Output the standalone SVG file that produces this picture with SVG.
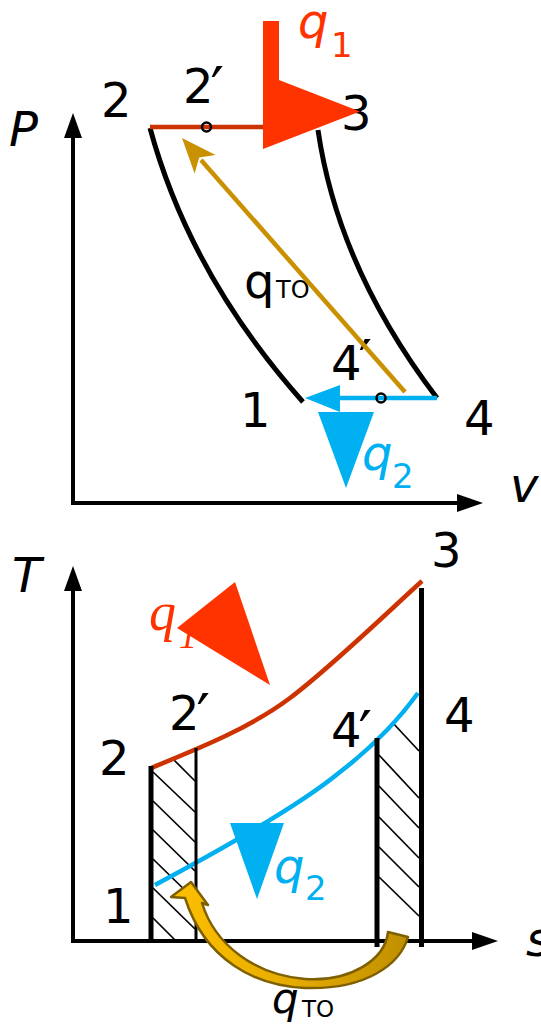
<svg xmlns="http://www.w3.org/2000/svg" width="541" height="1025" viewBox="0 0 541 1025">
<defs>
<style>
.lbl{font-family:"DejaVu Sans","Liberation Sans",sans-serif;font-size:48px;fill:#000}
.it{font-style:italic}
.pr{font-size:60px}
.red{fill:#FF3300}
.blue{fill:#00B0F0}
.axis{stroke:#000;stroke-width:4;fill:none}
.adb{stroke:#000;stroke-width:5;fill:none}
.thick{stroke:#000;stroke-width:5;fill:none}
.thin{stroke:#000;stroke-width:3;fill:none}
.hatch{stroke:#000;stroke-width:1.7;fill:none}
.isobar{stroke:#CC3300;stroke-width:4.5;fill:none}
.cold{stroke:#00B0F0;stroke-width:4.5;fill:none}
.regen{stroke:#C99000;stroke-width:4.5;fill:none}
.pt{stroke:#000;stroke-width:2.5;fill:none}
</style>
<linearGradient id="goldGrad" x1="170" y1="0" x2="410" y2="0" gradientUnits="userSpaceOnUse">
<stop offset="0" stop-color="#FFC000"/>
<stop offset="0.45" stop-color="#E8AE00"/>
<stop offset="1" stop-color="#BF8F00"/>
</linearGradient>
</defs>
<rect width="541" height="1025" fill="#fff"/>

<!-- P-v diagram -->
<g id="pv-axes">
<polyline class="axis" points="73,135 73,503 460,503"/>
<polygon points="73,113 64,138 82,138" fill="#000"/>
<polygon points="483,503 457,494 457,512" fill="#000"/>
<text class="lbl it" x="9" y="146">P</text>
<text class="lbl it" x="510" y="502">v</text>
</g>

<g id="pv-labels">
<text id="pv-2" class="lbl" x="101" y="117">2</text>
<text id="pv-2p" class="lbl" x="183" y="103">2<tspan class="pr" dx="-3" dy="7">′</tspan></text>
<text id="pv-3" class="lbl" x="341" y="130">3</text>
<text id="pv-4p" class="lbl" x="331" y="380">4<tspan class="pr" dx="-3" dy="3">′</tspan></text>
<text id="pv-1" class="lbl" x="240" y="427">1</text>
<text id="pv-4" class="lbl" x="464" y="435">4</text>
<text id="pv-qto" class="lbl"><tspan x="244" y="298">q</tspan><tspan x="276" y="298" font-size="24">TO</tspan></text>
</g>

<g id="pv-connectors">
<path class="adb" d="M150,128 Q190,275 303,402"/>
<path class="adb" d="M318,130 Q338,268 437,398"/>
<line class="isobar" x1="150" y1="127" x2="266" y2="127"/>
<line class="cold" x1="437" y1="398" x2="338" y2="398"/>
<polygon class="blue" points="305,398 340,385 340,412"/>
<line class="regen" x1="405" y1="392" x2="201" y2="160"/>
<polygon points="182,138 215.6,155.1 199.2,157.6 194.6,173.5" fill="#C99000"/>
<circle class="pt" cx="206.5" cy="127" r="4.5"/>
<circle class="pt" cx="381" cy="398" r="4.5"/>
</g>

<g id="pv-q1">
<path class="red" d="M263,21 H279 V80 L360,111.5 L263,149 Z"/>
<text class="lbl red"><tspan class="it" x="298" y="38">q</tspan><tspan x="331" y="57" font-size="34">1</tspan></text>
</g>

<g id="pv-q2">
<polygon class="blue" points="318,412 374,412 346,488"/>
<text class="lbl blue"><tspan class="it" x="362" y="470">q</tspan><tspan x="392" y="488" font-size="34">2</tspan></text>
</g>

<!-- T-s diagram -->
<g id="ts-axes">
<polyline class="axis" points="73,589 73,941 475,941"/>
<polygon points="73,566 64,591 82,591" fill="#000"/>
<polygon points="498,941 472,932 472,950" fill="#000"/>
<text class="lbl it" x="12" y="592">T</text>
<text class="lbl it" x="526" y="956">s</text>
</g>

<g id="ts-labels">
<text id="ts-3" class="lbl" x="431" y="567">3</text>
<text id="ts-2p" class="lbl" x="169" y="730">2<tspan class="pr" dx="-3" dy="7">′</tspan></text>
<text id="ts-4" class="lbl" x="444" y="732">4</text>
<text id="ts-4p" class="lbl" x="331" y="747">4<tspan class="pr" dx="-3" dy="7">′</tspan></text>
<text id="ts-2" class="lbl" x="99" y="775">2</text>
<text id="ts-1" class="lbl" x="103" y="923">1</text>
<text id="ts-qto" class="lbl"><tspan class="it" x="272" y="1013" font-size="42">q</tspan><tspan x="302" y="1017" font-size="23">TO</tspan></text>
</g>

<g id="ts-q1">
<text fill="#FF3300" font-family="'Liberation Serif',serif" font-style="italic"><tspan x="149" y="630" font-size="54">q</tspan><tspan x="179" y="648" font-size="36">1</tspan></text>
<polygon class="red" points="235,582 177,628 270,685"/>
</g>

<g id="ts-hatch">
<line class="hatch" x1="173" y1="759" x2="195" y2="781"/>
<line class="hatch" x1="153" y1="772" x2="195" y2="812"/>
<line class="hatch" x1="153" y1="801" x2="195" y2="842"/>
<line class="hatch" x1="153" y1="830" x2="195" y2="871"/>
<line class="hatch" x1="153" y1="859" x2="195" y2="900"/>
<line class="hatch" x1="153" y1="888" x2="195" y2="929"/>
<line class="hatch" x1="153" y1="918" x2="176" y2="941"/>
<line class="hatch" x1="392" y1="722" x2="419" y2="751"/>
<line class="hatch" x1="379" y1="755" x2="419" y2="798"/>
<line class="hatch" x1="379" y1="786" x2="419" y2="828"/>
<line class="hatch" x1="379" y1="817" x2="419" y2="858"/>
<line class="hatch" x1="379" y1="847" x2="419" y2="887"/>
<line class="hatch" x1="379" y1="877" x2="419" y2="916"/>
</g>

<g id="ts-connectors">
<path class="isobar" d="M151,768 C200,748 250,728 290,698 C330,668 390,610 422,581"/>
<path class="cold" d="M155,885 C230,845 300,805 340,772 C375,745 400,718 418,693"/>
<line class="thick" x1="151" y1="766" x2="151" y2="943"/>
<line class="thin" x1="196" y1="748" x2="196" y2="941"/>
<line class="thick" x1="377" y1="738" x2="377" y2="947"/>
<line class="thick" x1="421.5" y1="588" x2="421.5" y2="947"/>
</g>

<g id="ts-q2">
<polygon class="blue" points="230,823 284,823 257,899"/>
<text class="lbl blue"><tspan class="it" x="274" y="883">q</tspan><tspan x="305" y="900" font-size="34">2</tspan></text>
</g>

<g id="ts-regen-arrow">
<path d="M408,937 C400,965 365,990 305,988 C255,986 205,960 185,898 L171,897 L191,882 L208,905 L202,903 C215,945 255,975 305,979 C350,982 385,960 388,932 Z" fill="url(#goldGrad)" stroke="#7F6000" stroke-width="2.5" stroke-linejoin="round"/>
</g>
</svg>
